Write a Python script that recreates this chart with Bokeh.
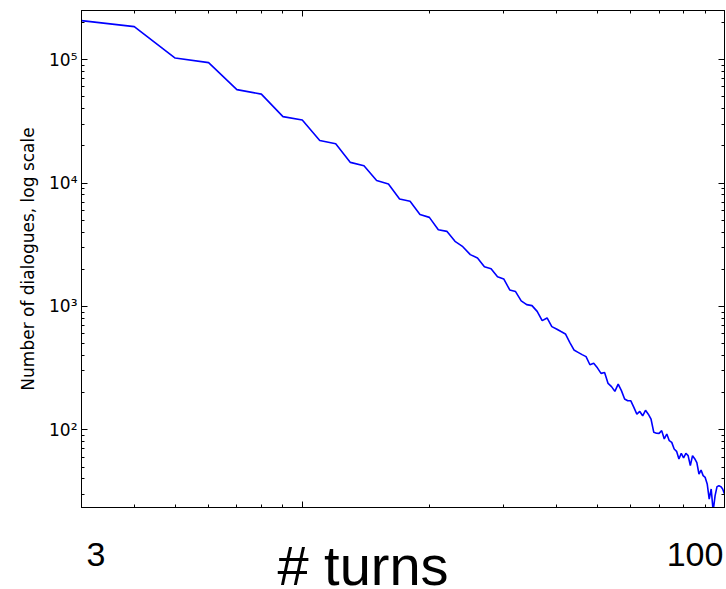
import math
from bokeh.plotting import figure
from bokeh.layouts import column
from bokeh.models import Range1d, FixedTicker, LogAxis
from bokeh.core.properties import value
from bokeh.embed import file_html
from bokeh.resources import INLINE

# ---- data ----
turns = [3, 4, 5, 6, 7, 8, 9, 10, 11, 12, 13, 14, 15, 16, 17, 18, 19, 20,
         21, 22, 23, 24, 25, 26, 27, 28, 29, 30, 31, 32, 33, 34, 35, 36, 37,
         38, 39, 40, 41, 42, 43, 44, 45, 46, 47, 48, 49, 50, 51, 52, 53, 54,
         55, 56, 57, 58, 59, 60, 61, 62, 63, 64, 65, 66, 67, 68, 69, 70, 71,
         72, 73, 74, 75, 76, 77, 78, 79, 80, 81, 82, 83, 84, 85, 86, 87, 88,
         89, 90, 91, 92, 93, 94, 95, 96, 97, 98, 99, 100]
dialogues = [207000, 185000, 103000, 94600, 57100, 52500, 34500, 32400,
             22100, 20800, 14700, 13800, 10500, 9830, 7430, 7110, 5550, 5270,
             4190, 4060, 3370, 3050, 2630, 2470, 2100, 2020, 1740, 1670,
             1360, 1320, 1110, 1035, 1016, 912, 767, 807, 686, 657,
             626, 599, 512, 444, 425, 407, 392, 337, 346, 318,
             287, 292, 238, 224, 205, 235, 208, 178, 172, 172,
             152, 134, 141, 130, 144, 134, 122, 95.5, 94, 93.7,
             98.6, 84.4, 92.6, 81.7, 79.2, 70, 67, 58.1, 64.6, 59.2,
             64.6, 61.8, 51.3, 61.8, 58.4, 54.2, 43.9, 47.3, 42.6, 41.2,
             36.5, 27.5, 33.2, 22, 29.3, 34.7, 35.3, 34.7, 33.2, 30.2]

x_major_ticks = [10, 100]
x_minor_ticks = [3, 4, 5, 6, 7, 8, 9, 20, 30, 40, 50, 60, 70, 80, 90]
y_major_ticks = [100, 1000, 10000, 100000]
y_major_labels = {100: "10²", 1000: "10³", 10000: "10⁴", 100000: "10⁵"}
y_minor_ticks = [20, 30, 40, 50, 60, 70, 80, 90,
                 200, 300, 400, 500, 600, 700, 800, 900,
                 2000, 3000, 4000, 5000, 6000, 7000, 8000, 9000,
                 20000, 30000, 40000, 50000, 60000, 70000, 80000, 90000,
                 200000, 300000]
x_limits = (3, 100)
y_limits = (23.5, 250000)

x_end_labels = ["3", "100"]
x_title = "# turns"
y_title = "Number of dialogues, log scale"

W, H = 725, 509
BL, BR, BT, BB = 81, 1, 10, 2
H2 = 80

p = figure(width=W, height=H, x_axis_type="log", y_axis_type="log",
           x_range=Range1d(*x_limits), y_range=Range1d(*y_limits),
           output_backend="svg", toolbar_location=None,
           min_border_top=BT, min_border_right=BR, min_border_bottom=BB,
           min_border_left=BL)
p.grid.visible = False
p.outline_line_color = "black"
p.outline_line_width = 1
p.background_fill_color = "white"
p.border_fill_color = "white"

def style(ax, ticks, show_labels):
    ax.axis_line_color = "black"
    ax.major_tick_line_color = "black"
    ax.minor_tick_line_color = "black"
    ax.major_tick_in = 6
    ax.major_tick_out = 0
    ax.minor_tick_in = 3
    ax.minor_tick_out = 0
    ax.major_label_text_font = "DejaVu Sans"
    ax.major_label_text_color = "black"
    if not show_labels:
        ax.major_label_overrides = {t: "" for t in ticks}
        ax.major_label_standoff = 0

xa = p.xaxis[0]
xa.ticker = FixedTicker(ticks=x_major_ticks, minor_ticks=x_minor_ticks)
style(xa, x_major_ticks, False)

ya = p.yaxis[0]
ya.ticker = FixedTicker(ticks=y_major_ticks, minor_ticks=y_minor_ticks)
style(ya, y_major_ticks, True)
ya.major_label_overrides = y_major_labels
ya.major_label_text_font_size = "17px"
ya.major_label_standoff = 4
ya.axis_label = y_title
ya.axis_label_text_font = "DejaVu Sans"
ya.axis_label_text_font_style = "normal"
ya.axis_label_text_font_size = "17px"
ya.axis_label_text_color = "black"
ya.axis_label_standoff = 8

top = LogAxis(ticker=FixedTicker(ticks=x_major_ticks, minor_ticks=x_minor_ticks))
style(top, x_major_ticks, False)
p.add_layout(top, "above")

right = LogAxis(ticker=FixedTicker(ticks=y_major_ticks, minor_ticks=y_minor_ticks))
style(right, y_major_ticks, False)
p.add_layout(right, "right")

p.line(turns, dialogues, line_color="#0000ff", line_width=1.6)

# ---- strip below the plot with the big x texts, sharing the log x scale ----
frame_w = W - BL - BR
x_px_dec = frame_w / (math.log10(x_limits[1]) - math.log10(x_limits[0]))

def x_at(px_from_frame_left):
    return x_limits[0] * 10 ** (px_from_frame_left / x_px_dec)

p2 = figure(width=W, height=H2, x_axis_type="log",
            x_range=p.x_range, y_range=Range1d(0, H2),
            output_backend="svg", toolbar_location=None,
            min_border_left=BL, min_border_right=BR, min_border_top=0,
            min_border_bottom=0)
p2.axis.visible = False
p2.grid.visible = False
p2.outline_line_color = None
p2.background_fill_color = "white"
p2.border_fill_color = "white"

big_font = value("Liberation Sans")
p2.text(x=[x_at(14.5), x_at(613.5)], y=[35, 35], text=x_end_labels,
        text_align="center", text_baseline="alphabetic",
        text_font=big_font, text_font_size="34px", text_color="black")
p2.text(x=[x_at(281.5)], y=[24], text=[x_title],
        text_align="center", text_baseline="alphabetic",
        text_font=big_font, text_font_size="56px", text_color="black")

layout = column(p, p2, spacing=0)
open("out.html", "w").write(file_html(layout, INLINE))
